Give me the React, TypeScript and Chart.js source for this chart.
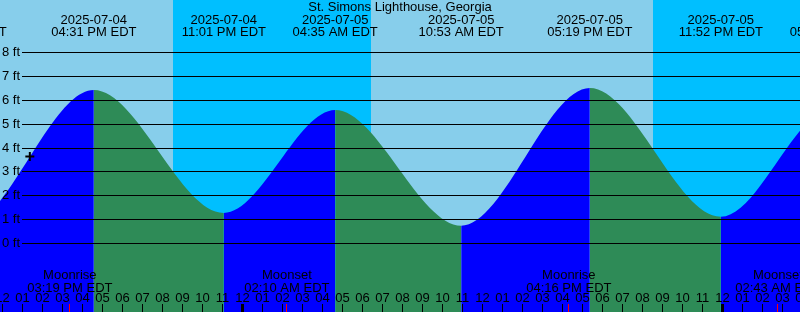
import React, { useEffect, useRef } from "react";
import { Chart, registerables } from "chart.js";

Chart.register(...registerables);

// ---------- data ----------
const chartTitle = "St. Simons Lighthouse, Georgia";
const baseTime = "2025-07-04T12:00"; // reference for the hour axis
const viewStartHour = -0.175;
const viewEndHour = 39.825;
const heightMin = -2.869;
const heightMax = 10.199;
const gridFeet = [0, 1, 2, 3, 4, 5, 6, 7, 8];

// tide extremes (local EDT)
const tideTimes = [
  "2025-07-04T03:50",
  "2025-07-04T10:02",
  "2025-07-04T16:31",
  "2025-07-04T23:01",
  "2025-07-05T04:35",
  "2025-07-05T10:53",
  "2025-07-05T17:19",
  "2025-07-05T23:52",
  "2025-07-06T05:27",
  "2025-07-06T11:45",
];
const tideHeights = [5.5, 0.71, 6.43, 1.28, 5.59, 0.74, 6.51, 1.12, 5.65, 0.8];

const sunsetTimes = ["2025-07-04T20:28", "2025-07-05T20:29"];
const sunriseTimes = ["2025-07-05T06:22", "2025-07-06T06:23"];

const moonTimes = ["2025-07-04T15:19", "2025-07-05T02:10", "2025-07-05T16:16", "2025-07-06T02:43"];
const moonEvents = ["Moonrise", "Moonset", "Moonrise", "Moonset"];

const nowTime = "2025-07-04T13:19";
const nowHeight = 3.64;

// ---------- styles ----------
const DAY = "#87CEEB";
const NIGHT = "#00BFFF";
const RISING = "#0000FF";
const FALLING = "#2E8B57";
const FONT = "13px 'Liberation Sans', Arial, sans-serif";

// ---------- helpers ----------
const toHours = (s: string) =>
  (Date.parse(s + ":00Z") - Date.parse(baseTime + ":00Z")) / 3600000;
const pad2 = (n: number) => (n < 10 ? "0" + n : "" + n);
const fmtTime = (s: string) => {
  const h = parseInt(s.slice(11, 13), 10);
  const m = s.slice(14, 16);
  const ampm = h < 12 ? "AM" : "PM";
  const h12 = h % 12 === 0 ? 12 : h % 12;
  return `${pad2(h12)}:${m} ${ampm} EDT`;
};

const decorPlugin = {
  id: "tideDecor",
  beforeDatasetsDraw(chart: any) {
    const { ctx, chartArea: a, scales } = chart;
    const x = scales.x;
    ctx.save();
    ctx.fillStyle = DAY;
    ctx.fillRect(a.left, a.top, a.right - a.left, a.bottom - a.top);
    ctx.fillStyle = NIGHT;
    for (let i = 0; i < sunsetTimes.length; i++) {
      const x0 = Math.round(x.getPixelForValue(toHours(sunsetTimes[i])));
      const x1 = Math.round(x.getPixelForValue(toHours(sunriseTimes[i])));
      ctx.fillRect(x0, a.top, x1 - x0, a.bottom - a.top);
    }
    ctx.restore();
  },
  afterDatasetsDraw(chart: any) {
    const { ctx, chartArea: a, scales } = chart;
    const x = scales.x;
    const y = scales.y;
    ctx.save();
    ctx.fillStyle = "#000";
    ctx.font = FONT;

    // horizontal foot lines + labels
    ctx.textAlign = "left";
    ctx.textBaseline = "alphabetic";
    for (const v of gridFeet) {
      const row = Math.floor(y.getPixelForValue(v));
      ctx.fillRect(a.left + 22, row, a.right - a.left - 22, 1);
      ctx.fillText(`${v} ft`, a.left + 2, row + 4);
    }

    // title
    ctx.textAlign = "center";
    ctx.fillText(chartTitle, (a.left + a.right) / 2, 11);

    // tide extreme labels
    for (const t of tideTimes) {
      const px = x.getPixelForValue(toHours(t));
      ctx.fillText(t.slice(0, 10), px, 24);
      ctx.fillText(fmtTime(t), px, 36);
    }

    // hour ticks and labels
    const bottom = a.bottom;
    for (let k = Math.ceil(viewStartHour); k <= Math.floor(viewEndHour) + 1; k++) {
      const col = Math.floor(x.getPixelForValue(k)) - 1;
      const clock = (12 + k) % 24;
      if (clock === 0) ctx.fillRect(col - 1, bottom - 8, 3, 8);
      else ctx.fillRect(col, bottom - 8, 1, 8);
      const h12 = clock % 12 === 0 ? 12 : clock % 12;
      ctx.fillText(pad2(h12), col + 0.5, bottom - 10);
    }

    // moon events
    for (let i = 0; i < moonTimes.length; i++) {
      const px = x.getPixelForValue(toHours(moonTimes[i]));
      ctx.fillStyle = "#000";
      ctx.fillText(moonEvents[i], px, bottom - 33);
      ctx.fillText(fmtTime(moonTimes[i]), px, bottom - 20);
      ctx.fillStyle = "#FF0000";
      ctx.fillRect(Math.floor(px), bottom - 8, 1, 8);
    }
    ctx.restore();
  },
};

export default function App() {
  const ref = useRef<HTMLCanvasElement | null>(null);
  useEffect(() => {
    if (!ref.current) return;
    const chart = new Chart(ref.current, {
      type: "line",
      data: {
        datasets: [
          {
            data: [{ x: toHours(nowTime), y: nowHeight }],
            showLine: false,
            pointStyle: "cross",
            pointRadius: 4.5,
            borderWidth: 2,
            borderColor: "#000",
            backgroundColor: "#000",
            clip: false,
            order: 0,
          } as any,
          {
            data: tideTimes.map((t, i) => ({ x: toHours(t), y: tideHeights[i] })),
            cubicInterpolationMode: "monotone",
            fill: "start",
            borderColor: "rgba(0,0,0,0)",
            borderWidth: 0,
            backgroundColor: FALLING,
            pointRadius: 0,
            segment: {
              backgroundColor: (c: any) => (c.p1.parsed.y >= c.p0.parsed.y ? RISING : FALLING),
            },
            order: 1,
          } as any,
        ],
      },
      options: {
        animation: false,
        responsive: false,
        devicePixelRatio: 1,
        events: [],
        layout: { padding: 0, autoPadding: false },
        scales: {
          x: { type: "linear", min: viewStartHour, max: viewEndHour, display: false },
          y: { type: "linear", min: heightMin, max: heightMax, display: false },
        },
        plugins: { legend: { display: false }, tooltip: { enabled: false } },
      },
      plugins: [decorPlugin],
    });
    return () => chart.destroy();
  }, []);
  return (
    <div style={{ position: "absolute", left: 0, top: 0, width: 800, height: 312 }}>
      <canvas ref={ref} width={800} height={312} style={{ display: "block" }} />
    </div>
  );
}
